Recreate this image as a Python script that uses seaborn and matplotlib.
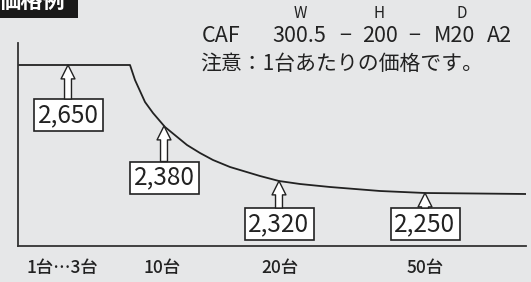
import matplotlib
matplotlib.use("Agg")
import matplotlib.pyplot as plt
from matplotlib.patches import Rectangle
import seaborn as sns

# ---------------------------------------------------------------------------
# data (x = position along the quantity axis,
# y = height above the baseline)
# ---------------------------------------------------------------------------
curve_x = [0, 112, 117, 127, 135, 147, 169, 182, 195, 212, 222, 242, 261, 282, 312, 362, 407, 508]
curve_y = [181, 181, 166, 144, 133, 119, 101, 93, 86, 79, 76, 70, 65, 62, 59, 55, 53, 52]

tick_x = [44, 144, 262, 407]
tick_labels = ["1台…3台", "10台", "20台", "50台"]

price_vals = [2650, 2380, 2320, 2250]
price_x = [50, 146, 261, 407]
price_tip_y = [181, 120, 65, 53]
price_box_y = [131, 68.5, 22, 22]

title = "価格例"
note = "注意：1台あたりの価格です。"
model_parts = ["CAF", "300.5", "−", "200", "−", "M20", "A2"]
model_dims = ["W", "H", "D"]

BG = "#e6e7e8"
INK = "#222222"

sns.set_theme(style="white")
plt.rcParams["font.family"] = ["Noto Sans CJK JP", "DejaVu Sans"]

W, H = 531, 282
fig = plt.figure(figsize=(W / 100, H / 100), dpi=100, facecolor=BG)

# plot area: x 18..526 px, y 43..246 px
ax = fig.add_axes([18 / W, (H - 246) / H, 508 / W, 203 / H])
ax.set_facecolor(BG)
ax.set_xlim(0, 508)
ax.set_ylim(0, 203)

sns.lineplot(x=curve_x, y=curve_y, ax=ax, color=INK, lw=1.3, zorder=2)

for s in ["top", "right"]:
    ax.spines[s].set_visible(False)
for s in ["left", "bottom"]:
    ax.spines[s].set_color("#333333")
    ax.spines[s].set_linewidth(1.3)

ax.set_yticks([])
ax.set_xticks(tick_x)
ax.set_xticklabels(tick_labels, fontsize=12.5, color=INK, fontweight="medium")
ax.tick_params(axis="x", length=0, pad=9)

# price boxes with hollow arrows pointing at the curve
bw, bh = 69, 32
for v, x, ty, by in zip(price_vals, price_x, price_tip_y, price_box_y):
    ax.add_patch(Rectangle((x - bw / 2, by - bh / 2), bw, bh, fc="white",
                           ec=INK, lw=1.2, zorder=3))
    ax.text(x, by, f"{v:,}", ha="center", va="center", fontsize=17.5,
            color=INK, zorder=5)
    ax.annotate("", xy=(x, ty), xytext=(x, by + bh / 2),
                arrowprops=dict(arrowstyle="simple,head_length=1.0,head_width=1.0,tail_width=0.5",
                                fc="white", ec=INK, lw=1.0, shrinkA=0, shrinkB=0,
                                mutation_scale=10),
                zorder=4)

# title tab at top left (cut by the figure edge, as in the original)
fig.patches.append(Rectangle((0, 1 - 18 / H), 78 / W, 18 / H, transform=fig.transFigure,
                             fc="#1a1a1a", ec="none"))
fig.text(-1 / W, 1 - 1 / H, title, ha="left", va="center", fontsize=16,
         fontweight="bold", color="white")

# model code line
def px(x, y):
    return x / W, 1 - y / H

part_x = [221, 299, 345, 380, 414, 454, 499]
for t, x in zip(model_parts, part_x):
    fig.text(*px(x, 36), t, ha="center", va="center", fontsize=15.5, color=INK)
for t, x in zip(model_dims, [300, 379, 462]):
    fig.text(*px(x, 13), t, ha="center", va="center", fontsize=11, color=INK)

fig.text(*px(200, 64), note, ha="left", va="center", fontsize=15, color=INK)

fig.savefig("out.png", dpi=100, facecolor=BG)
